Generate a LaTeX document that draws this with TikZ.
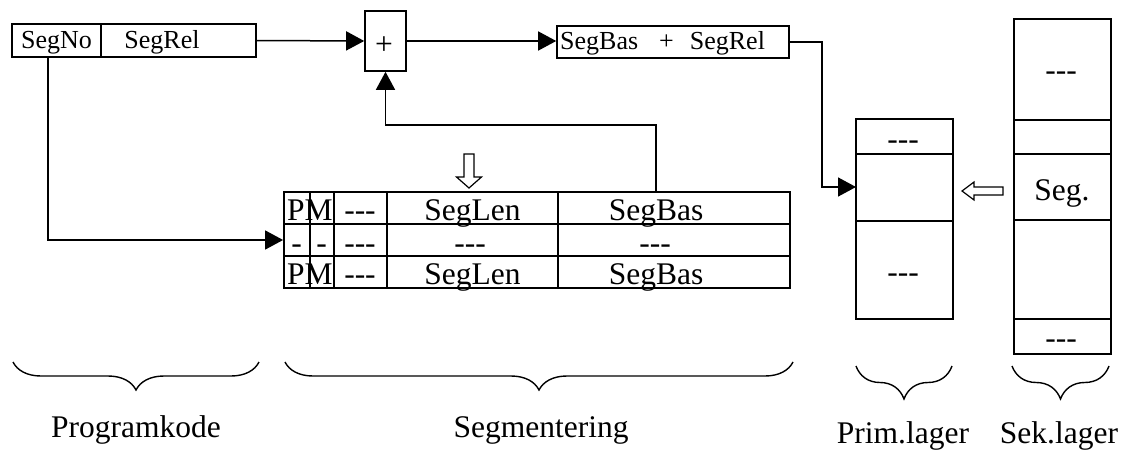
\documentclass[tikz,border=0pt]{standalone}
\usepackage{fontspec}
\setmainfont{Liberation Serif}[Ligatures=NoCommon]
\usetikzlibrary{arrows.meta,decorations.pathreplacing,calc}
\newcommand{\dashes}{-\kern0pt-\kern0pt-}
\begin{document}
\begin{tikzpicture}[x=1pt,y=-1pt,
 box/.style={draw,line width=1.6pt,inner sep=0pt,rectangle},
 big/.style={font=\fontsize{31.5}{36}\selectfont,inner sep=0pt,anchor=base},
 small/.style={font=\fontsize{26}{30}\selectfont,inner sep=0pt,anchor=base},
 conn/.style={line width=1.5pt,-{Triangle[length=18pt,width=19pt]}},
 wire/.style={line width=1.5pt},
 thinline/.style={line width=1.1pt},
 brc/.style={draw,line width=1.4pt,decorate,decoration={brace,mirror,amplitude=#1}},
 hollow/.style={draw,line width=1.2pt,fill=white,line join=miter}]
\useasboundingbox (0,0) rectangle (1124,450);

% top boxes
\node[box,minimum width=89pt,minimum height=33pt] (segno) at (56.5,40.5) {};
\node[box,minimum width=155pt,minimum height=33pt] (segrel) at (178.5,40.5) {};
\node[small] (tsegno) at (56.5,48) {SegNo};
\node[small] (tsegrel) at (162,48) {SegRel};

\node[box,minimum width=41pt,minimum height=60pt] (plus) at (385.5,41) {};
\node[big] (tplus) at (384,54) {+};

\node[box,minimum width=232pt,minimum height=32pt] (res) at (673,42) {};
\node[small,anchor=base west] (tres) at (560,49) {SegBas\hspace{21pt}+\hspace{16pt}SegRel};

% table
\node[box,line width=1.8pt,minimum width=506pt,minimum height=96pt] (tab) at (537,240) {};
\draw[line width=1.8pt] (284,224) -- (790,224) (284,256) -- (790,256);
\draw[thinline] (310,192) -- (310,288) (334,192) -- (334,288);
\draw[line width=1.8pt] (387,192) -- (387,288) (558,192) -- (558,288);
\node[big,anchor=base west] (pm1) at (287,220) {PM};
\node[big] (d1) at (360,220) {\dashes};
\node[big] (len1) at (472.5,220) {SegLen};
\node[big] (bas1) at (656,220) {SegBas};
\node[big] (p2) at (296.5,253) {-};
\node[big] (m2) at (321.5,253) {-};
\node[big] (d2) at (360,253) {\dashes};
\node[big] (len2) at (470,253) {\dashes};
\node[big] (bas2) at (655,253) {\dashes};
\node[big,anchor=base west] (pm3) at (287,284) {PM};
\node[big] (d3) at (360,284) {\dashes};
\node[big] (len3) at (472.5,284) {SegLen};
\node[big] (bas3) at (656,284) {SegBas};

% primary memory
\node[box,minimum width=97pt,minimum height=200pt] (prim) at (904.5,219) {};
\draw[line width=1.6pt] (856,154) -- (953,154) (856,221) -- (953,221);
\node[big] (pd1) at (903,149) {\dashes};
\node[big] (pd2) at (903,282.5) {\dashes};

% secondary memory
\node[box,minimum width=97pt,minimum height=335pt] (sek) at (1062.5,186.5) {};
\draw[line width=1.6pt] (1014,120) -- (1111,120) (1014,154) -- (1111,154)
  (1014,220) -- (1111,220) (1014,319) -- (1111,319);
\node[big] (sd1) at (1061,80.5) {\dashes};
\node[big] (sseg) at (1062,200) {Seg.};
\node[big] (sd2) at (1061,348.5) {\dashes};

% connectors
\draw[conn] (segrel.east) -- (plus.west);
\draw[conn] (plus.east) -- (plus.east -| res.west);
\coordinate (primin) at (856,187);
\draw[conn] (res.east) -| (822,187) -- (primin);
\coordinate (segnodown) at (48,57);
\draw[conn] (segnodown) |- (tab.west);
\coordinate (basout) at (656,192);
\draw[conn] (basout) -- (656,125) -| (plus.south);

% hollow arrows
\draw[hollow] (464,154) -- (474,154) -- (474,177) -- (481.5,177) -- (469,188)
  -- (456.5,177) -- (464,177) -- cycle;
\draw[hollow] (1003,187) -- (974,187) -- (974,182) -- (962,191) -- (974,200)
  -- (974,195) -- (1003,195) -- cycle;

% braces
\coordinate (b1a) at (13,362); \coordinate (b1b) at (259,362);
\coordinate (b2a) at (285,362); \coordinate (b2b) at (793,362);
\coordinate (b3a) at (856,366); \coordinate (b3b) at (952,366);
\coordinate (b4a) at (1012,366); \coordinate (b4b) at (1109,366);
\draw[brc=28pt] (b1a) -- (b1b);
\draw[brc=28pt] (b2a) -- (b2b);
\draw[brc=33pt] (b3a) -- (b3b);
\draw[brc=33pt] (b4a) -- (b4b);

\node[big] (lprog) at (136,437) {Programkode};
\node[big] (lseg) at (541,437) {Segmentering};
\node[big] (lprim) at (903,443) {Prim.lager};
\node[big] (lsek) at (1059,443) {Sek.lager};
\end{tikzpicture}
\end{document}
